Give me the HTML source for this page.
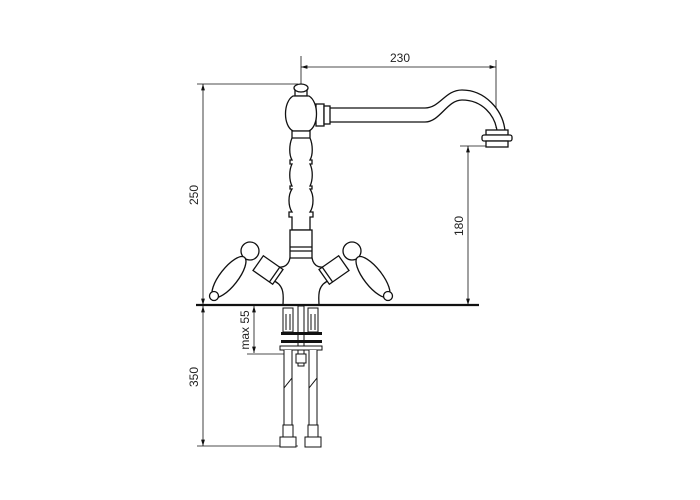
<!DOCTYPE html>
<html><head><meta charset="utf-8"><style>
html,body{margin:0;padding:0;background:#fff}
svg{display:block}
text{font-family:"Liberation Sans",sans-serif;font-size:12px;fill:#222}
</style></head><body>
<svg width="700" height="500" viewBox="0 0 700 500" xmlns="http://www.w3.org/2000/svg">
<defs>
<marker id="a" viewBox="0 0 10 10" refX="10" refY="5" markerWidth="8" markerHeight="8" orient="auto-start-reverse"><path d="M0,2 L10,5 L0,8 Z" fill="#111"/></marker>
</defs>
<g stroke="#111" stroke-width="0.8" fill="none">
<line x1="301" y1="56" x2="301" y2="305"/>
<line x1="301" y1="67" x2="496" y2="67" marker-start="url(#a)" marker-end="url(#a)"/>
<line x1="496" y1="60" x2="496" y2="128"/>
<line x1="197" y1="84" x2="298" y2="84"/>
<line x1="203" y1="84" x2="203" y2="305" marker-start="url(#a)" marker-end="url(#a)"/>
<line x1="460" y1="146" x2="500" y2="146"/>
<line x1="468" y1="146" x2="468" y2="305" marker-start="url(#a)" marker-end="url(#a)"/>
<line x1="203" y1="306" x2="203" y2="446" marker-start="url(#a)" marker-end="url(#a)"/>
<line x1="197" y1="446" x2="298" y2="446"/>
<line x1="254" y1="306" x2="254" y2="353" marker-start="url(#a)" marker-end="url(#a)"/>
<line x1="247" y1="354" x2="292" y2="354"/>
</g>
<text x="400" y="62" text-anchor="middle">230</text>
<text transform="translate(198,195) rotate(-90)" text-anchor="middle">250</text>
<text transform="translate(463,226) rotate(-90)" text-anchor="middle">180</text>
<text transform="translate(198,377) rotate(-90)" text-anchor="middle">350</text>
<text transform="translate(249,330) rotate(-90)" text-anchor="middle">max 55</text>

<g stroke="#111" stroke-width="1.3" fill="#fff">
<!-- spout -->
<path d="M318,108 L425,108 C440,108 445,90 462,90 C485,90 503,110 505,131 L497,131 C495,115 482,100 462,100 C447,100 440,122 425,122 L318,122 Z"/>
<rect x="316" y="104" width="8" height="22"/>
<rect x="324" y="106" width="6" height="18"/>
<rect x="486" y="130" width="22" height="5"/>
<rect x="482" y="135" width="30" height="6" rx="2"/>
<rect x="486" y="141" width="22" height="6"/>
<!-- body -->
<path d="M295,96 L307,96 L307,89 L295,89 Z"/>
<ellipse cx="301" cy="88" rx="7" ry="4"/>
<path d="M293,96 L309,96 C319,102 319,126 309,131 L293,131 C283,126 283,102 293,96 Z"/>
<path d="M292,131 L292,138 C289,145 289,155 292,160 L290,160 L290,164 L292,164 C289,170 289,180 292,186 L290,186 L290,189 L292,189 C288,195 288,206 292,212 L289,212 L289,217 L292,217 L292,230 L310,230 L310,217 L313,217 L313,212 L310,212 C314,206 314,195 310,189 L312,189 L312,186 L310,186 C313,180 313,170 310,164 L312,164 L312,160 L310,160 C313,155 313,145 310,138 L310,131 Z"/>
<line x1="292" y1="138" x2="310" y2="138"/>
<rect x="290" y="230" width="22" height="30"/>
<line x1="290" y1="247" x2="312" y2="247"/>
<line x1="290" y1="251" x2="312" y2="251"/>
<!-- skirt -->
<path d="M290,258 C288,268 280,268 276,266 L272,280 C286,285 283,298 283,305 L319,305 C319,298 316,285 330,280 L326,266 C322,268 314,268 312,258 Z"/>
<!-- left handle -->
<g transform="translate(268,270) rotate(35)"><rect x="-12" y="-9" width="24" height="18"/><line x1="8" y1="-9" x2="8" y2="9"/></g>
<circle cx="250" cy="251" r="9"/>
<ellipse cx="229" cy="277" rx="9" ry="25" transform="rotate(38 229 277)"/>
<circle cx="214" cy="296" r="4.5"/>
<!-- right handle -->
<g transform="translate(334,270) rotate(-35)"><rect x="-12" y="-9" width="24" height="18"/><line x1="-8" y1="-9" x2="-8" y2="9"/></g>
<circle cx="352" cy="251" r="9"/>
<ellipse cx="373" cy="277" rx="9" ry="25" transform="rotate(-38 373 277)"/>
<circle cx="388" cy="296" r="4.5"/>
</g>
<line x1="196" y1="305" x2="479" y2="305" stroke="#111" stroke-width="2.2"/>

<g stroke="#111" stroke-width="1" fill="#fff">
<rect x="298" y="306" width="6" height="60"/>
<rect x="283" y="308" width="10" height="24"/>
<rect x="308" y="308" width="10" height="24"/>
<line x1="286" y1="314" x2="286" y2="330"/><line x1="290" y1="314" x2="290" y2="330"/>
<line x1="311" y1="314" x2="311" y2="330"/><line x1="315" y1="314" x2="315" y2="330"/>
<rect x="280" y="346" width="42" height="4"/>
<rect x="296" y="354" width="10" height="9"/>
<path d="M284,350 L284,425 L292,425 L292,350 M309,350 L309,425 L317,425 L317,350"/>
<line x1="284" y1="388" x2="292" y2="378"/><line x1="309" y1="388" x2="317" y2="378"/>
<rect x="283" y="425" width="10" height="12"/>
<rect x="308" y="425" width="10" height="12"/>
<rect x="280" y="437" width="16" height="10"/>
<rect x="305" y="437" width="16" height="10"/>
</g>
<rect x="281" y="332" width="41" height="3" fill="#111"/>
<rect x="281" y="340" width="41" height="3" fill="#111"/>
</svg>
</body></html>
